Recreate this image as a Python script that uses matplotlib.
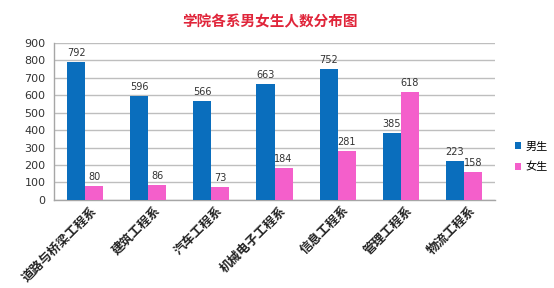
import matplotlib
matplotlib.use("Agg")
import matplotlib.pyplot as plt
import numpy as np

plt.rcParams['font.family'] = ['Noto Sans CJK SC', 'DejaVu Sans']

departments = ["道路与桥梁工程系", "建筑工程系", "汽车工程系", "机械电子工程系",
               "信息工程系", "管理工程系", "物流工程系"]
male = [792, 596, 566, 663, 752, 385, 223]
female = [80, 86, 73, 184, 281, 618, 158]
yticks = list(range(0, 1000, 100))

blue = "#0A6EBD"
pink = "#F45FCB"

fig = plt.figure(figsize=(5.54, 2.88), dpi=100)
ax = fig.add_axes([0.097, 0.306, 0.797, 0.545])

x = np.arange(len(departments))
w = 0.286
b1 = ax.bar(x - w / 2, male, width=w, color=blue, label="男生", zorder=3)
b2 = ax.bar(x + w / 2, female, width=w, color=pink, label="女生", zorder=3)

for bars, vals in ((b1, male), (b2, female)):
    for r, v in zip(bars, vals):
        ax.text(r.get_x() + r.get_width() / 2, v + 22, str(v), ha="center",
                va="bottom", fontsize=7, color="#333333", family="DejaVu Sans")

ax.set_xlim(-0.5, len(departments) - 0.5)
ax.set_ylim(0, 900)
ax.set_yticks(yticks)
ax.set_yticklabels([str(t) for t in yticks], fontsize=8, color="#333333",
                   family="DejaVu Sans")
ax.yaxis.grid(True, color="#BEBEBE", linewidth=1.0, zorder=0)
ax.set_axisbelow(True)
ax.tick_params(axis="y", length=0, pad=6)
ax.tick_params(axis="x", length=0, pad=3)

ax.set_xticks(x + 0.08)
ax.set_xticklabels(departments, rotation=45, ha="right", rotation_mode="anchor",
                   fontsize=9, fontweight="bold", color="#222222")

for s in ("top", "right"):
    ax.spines[s].set_visible(False)
for s in ("left", "bottom"):
    ax.spines[s].set_color("#A6A6A6")
    ax.spines[s].set_linewidth(1.0)

leg = fig.legend(handles=[b1, b2], loc="center left", bbox_to_anchor=(0.912, 0.455),
                 frameon=False, fontsize=8, handlelength=0.55, handleheight=0.55,
                 labelspacing=0.9, handletextpad=0.4)

fig.text(0.487, 0.925, "学院各系男女生人数分布图", ha="center", va="center",
         fontsize=10.5, fontweight="bold", color="#E0253A")

fig.savefig("out.png", dpi=100, facecolor="white")
